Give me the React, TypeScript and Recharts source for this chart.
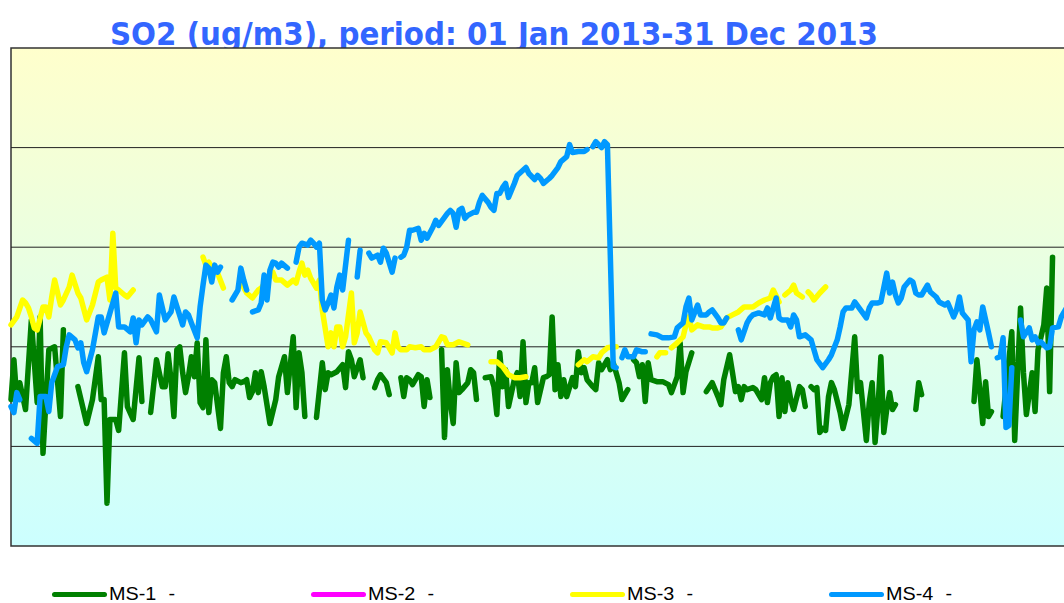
import React from "react";
import { LineChart, Line, XAxis, YAxis, ReferenceLine, ReferenceArea } from "recharts";

// [day of year, SO2 value]; null breaks the line (missing days)
type Pt = [number, number | null];

const seriesNames = ["MS-1 -", "MS-2 -", "MS-3 -", "MS-4 -"];
const seriesColors = ["#008000", "#ff00ff", "#ffff00", "#0099ff"];
const gridValues = [10, 20, 30, 40];
const dayDomain: [number, number] = [1, 365];
const valueDomain: [number, number] = [0, 50];

const ms1: Pt[] = [
  [1, 14.7], [2, 18.7], [3, 14.7], [4, 16.4], [6, 13.7], [8, 22.7], [10, 14.4], [11, 23.0], [12, 9.3], [14, 19.7],
  [16, 20.0], [18, 13.0], [19, 21.7], [20, null],
  [24, 16.0], [27, 12.3], [29, 14.7], [31, 19.0], [32, 14.7], [33, 14.7], [34, 4.3], [35, 12.7], [37, 12.7], [38, 11.6],
  [40, 19.4], [41, 14.0], [43, 12.7], [45, 18.9], [46, 14.5], [47, null],
  [49, 13.4], [51, 18.7], [53, 16.0], [54, 16.0], [55, 19.3], [56, 16.7], [57, 13.0], [58, 19.7], [59, 20.0], [60, 17.4],
  [61, 15.4], [62, 17.0], [63, 19.0], [64, 17.0], [65, 20.4], [66, 14.4], [67, 13.9], [68, 20.7], [69, 13.4], [70, 16.7],
  [71, 16.4], [73, 11.8], [74, 17.4], [75, 19.0], [76, 16.4], [77, 16.0], [78, 16.7], [80, 16.4], [81, 16.5], [82, 16.7],
  [83, 14.9], [84, 15.5], [85, 17.4], [86, 15.4], [87, 17.5], [88, 16.0], [90, 12.3], [92, 14.7], [93, 17.0], [95, 19.0],
  [96, 15.4], [98, 21.0], [99, 13.9], [100, 19.4], [101, 17.4], [102, 13.0], [104, null],
  [106, 12.9], [108, 18.4], [109, 15.7], [110, 17.4], [111, 17.2], [113, 17.5], [115, 18.2], [116, 15.9], [117, 19.5],
  [118, 18.7], [119, 17.0], [121, 18.7], [122, 16.9], [124, null],
  [126, 15.9], [127, 16.7], [128, 17.2], [130, 16.4], [131, 15.2], [133, null],
  [135, 16.9], [136, 15.0], [137, 16.9], [138, 16.7], [139, 16.2], [141, 17.2], [142, 17.0], [143, 14.0], [144, 16.7],
  [145, 14.9], [147, null],
  [149, 19.7], [150, 10.9], [151, 17.7], [152, 14.4], [153, 12.3], [154, 18.4], [155, 15.4], [156, 15.7], [158, 16.4],
  [159, 17.7], [160, 17.4], [161, 14.7], [162, null],
  [164, 16.9], [166, 17.0], [167, 16.0], [168, 13.2], [169, 19.4], [170, 16.0], [171, 17.7], [172, 14.0], [174, 16.7],
  [175, 17.4], [176, 15.0], [177, 20.5], [178, 14.4], [179, 16.4], [180, 16.4], [181, 17.9], [182, 14.4], [184, 16.9],
  [185, 17.0], [186, 17.2], [187, 23.0], [188, 15.7], [189, 18.2], [190, 15.0], [191, 16.7], [192, 15.0], [194, 16.9],
  [195, 16.0], [196, 19.5], [197, 17.4], [198, 17.9], [199, 16.7], [201, 16.0], [202, 15.7], [203, 18.4], [204, 17.7],
  [206, 18.7], [207, 17.7], [208, 18.4], [209, 17.4], [210, 16.4], [211, 14.7], [213, 15.7], [214, null],
  [215, 18.7], [216, 18.4], [217, 17.0], [218, 18.2], [219, 14.5], [220, 18.4], [221, 16.7], [223, 16.5], [225, 16.5],
  [227, 16.2], [228, 15.4], [230, 17.0], [231, 20.4], [232, 15.4], [233, 17.5], [235, 19.4], [237, null],
  [240, 15.5], [242, 16.4], [244, 15.0], [245, 14.2], [246, 16.7], [248, 19.2], [249, 17.4], [250, 15.5], [251, 16.0],
  [252, 14.7], [253, 16.0], [254, 15.7], [256, 15.9], [257, 15.7], [259, 14.7], [260, 16.9], [261, 14.4], [262, 16.4],
  [263, 17.0], [264, 17.2], [265, 13.0], [266, 16.9], [267, 13.5], [268, 16.4], [269, 14.7], [270, 13.7], [272, 16.0],
  [273, 15.7], [274, 14.0], [275, null],
  [276, 16.0], [277, 15.7], [278, 15.9], [279, 11.4], [280, 11.8], [281, 11.6], [282, 15.0], [283, 16.4], [284, 15.7],
  [286, 13.4], [287, 11.8], [289, 14.2], [291, 21.0], [292, 15.5], [293, 16.4], [295, 10.6], [296, 14.4], [297, 16.4],
  [298, 10.4], [299, 14.0], [300, 19.0], [301, 11.4], [302, 13.7], [303, 15.4], [304, 13.7], [305, 14.2], [307, null],
  [312, 13.7], [313, 16.4], [314, 15.2], [315, null],
  [332, 14.5], [333, 18.7], [334, 15.7], [335, 12.3], [336, 16.5], [337, 13.0], [338, 13.5], [340, null],
  [342, 13.0], [345, 21.5], [346, 10.6], [347, 17.4], [348, 23.9], [349, 17.4], [350, 13.2], [352, 17.4], [353, 13.5],
  [354, 19.7], [356, 22.2], [357, 25.9], [358, 15.5], [359, 29.0],
];

// no data for MS-2 in this period
const ms2: Pt[] = [];

const ms3: Pt[] = [
  [1, 22.2], [3, 23.0], [5, 24.7], [6, 24.4], [7, 23.9], [8, 23.0], [9, 21.9], [10, 21.7], [12, 24.0], [13, 24.0],
  [14, 23.0], [15, 25.0], [16, 26.7], [18, 24.2], [19, 24.7], [21, 26.0], [22, 27.2], [24, 25.4], [25, 24.9], [27, 22.7],
  [29, 24.2], [31, 26.5], [32, 26.7], [34, 27.0], [35, 24.7], [36, 31.4], [37, 25.9], [38, 25.7], [40, 25.2], [41, 25.0],
  [43, 25.7], [45, null],
  [67, 29.0], [68, 28.2], [69, 28.5], [70, 27.9], [72, 27.4], [74, 25.9], [76, null],
  [80, 26.5], [82, 25.4], [84, 24.9], [86, 25.7], [87, 25.9], [91, 27.5], [92, 26.7], [94, 26.7], [96, 26.2], [98, 26.7],
  [99, 26.4], [100, 27.5], [101, 28.4], [102, 27.2], [103, 27.7], [104, 26.9], [106, 25.9], [107, 26.7], [108, 23.7],
  [110, 20.0], [111, 21.4], [112, 20.0], [113, 22.0], [114, 22.0], [115, 20.0], [116, 21.0], [118, 25.4], [119, 20.4],
  [120, 21.4], [121, 23.5], [123, 21.4], [124, 21.0], [126, 19.7], [127, 19.4], [128, 20.5], [130, 20.4], [132, 19.4],
  [133, 21.4], [134, 20.0], [135, 19.7], [137, 19.7], [138, 20.0], [140, 19.9], [142, 20.0], [143, 19.7], [145, 19.7],
  [147, 20.0], [149, 21.0], [150, 20.9], [151, 20.2], [153, 20.2], [155, 20.5], [156, 20.4], [158, 20.2], [160, null],
  [166, 18.5], [168, 18.5], [170, 18.0], [172, 17.2], [174, 16.9], [176, 16.9], [178, 17.0], [180, null],
  [196, 18.2], [198, 18.7], [199, 18.5], [201, 19.0], [203, 18.9], [204, 19.4], [206, 19.9], [208, 20.0], [209, 20.0],
  [211, null],
  [223, 19.0], [224, 19.4], [226, 19.4], [227, null],
  [228, 19.9], [230, 20.4], [232, 21.0], [233, 22.2], [234, 23.0], [235, 21.7], [237, 22.2], [239, 22.0], [241, 22.0],
  [242, 21.9], [244, 21.9], [245, 22.0], [247, 22.9], [249, 23.2], [251, 23.5], [253, 24.0], [254, 24.0], [256, 24.0],
  [258, 24.4], [260, 24.7], [262, 24.9], [263, 25.7], [265, 24.5], [266, null],
  [267, 25.2], [269, 25.7], [270, 26.2], [271, 25.4], [273, 25.0], [274, null],
  [275, 25.5], [276, 25.2], [277, 24.7], [279, 25.4], [281, 26.0],
];

const ms4: Pt[] = [
  [1, 14.0], [2, 13.4], [3, 15.4], [4, 14.7], [6, null],
  [8, 10.8], [10, 10.3], [11, 15.0], [13, 15.0], [14, 13.5], [15, 16.4], [17, 18.0], [19, 18.2], [20, 20.0], [21, 21.2],
  [23, 20.7], [24, 19.9], [25, 20.4], [26, 18.4], [27, 17.5], [29, 19.7], [31, 23.0], [32, 23.0], [33, 21.4], [34, 22.4],
  [37, 25.4], [38, 22.0], [40, 22.0], [42, 21.5], [43, 22.9], [44, 20.4], [45, 22.7], [46, 22.2], [48, 23.0], [49, 22.7],
  [51, 21.5], [52, 25.2], [54, 22.7], [56, 23.5], [57, 25.0], [60, 22.2], [61, 23.5], [62, 23.2], [63, 22.4], [65, 20.9],
  [66, 24.0], [67, 26.2], [68, 28.2], [69, 27.9], [70, 26.5], [71, 28.2], [72, 27.5], [73, 28.0], [75, null],
  [77, 24.7], [79, 25.7], [80, 27.9], [81, 26.7], [82, 25.7], [83, null],
  [84, 23.5], [86, 23.7], [87, 24.4], [88, 27.2], [89, 24.7], [90, 27.7], [91, 28.5], [92, 28.4], [93, 28.0], [94, 28.4],
  [96, 27.9], [97, null],
  [99, 28.5], [100, 30.0], [101, 30.4], [103, 30.2], [104, 30.7], [105, 30.4], [106, 30.0], [107, 30.4], [108, 24.7],
  [109, 23.7], [110, 24.4], [111, 25.2], [112, 23.9], [113, 26.0], [114, 27.2], [115, 25.7], [117, 30.7], [118, null],
  [120, 27.0], [121, 29.7], [122, null],
  [124, 29.4], [125, 28.9], [127, 29.2], [128, 28.5], [129, 29.9], [130, 29.4], [132, 27.5], [133, 28.9], [134, null],
  [135, 29.0], [136, 29.2], [137, 30.0], [138, 31.7], [139, 31.7], [141, 31.9], [142, 30.7], [143, 31.4], [144, 30.9],
  [146, 32.0], [147, 32.7], [148, 32.2], [150, 33.0], [151, 33.4], [152, 33.7], [153, 33.4], [154, 32.0], [155, 33.7],
  [156, 33.9], [157, 32.9], [158, 33.2], [160, 33.5], [161, 33.5], [162, 34.5], [163, 35.2], [165, 34.5], [166, 34.0],
  [167, 33.7], [168, 35.4], [169, 35.4], [170, 36.0], [171, 36.4], [172, 35.0], [174, 36.4], [175, 37.2], [178, 38.0],
  [179, 37.4], [181, 36.8], [182, 37.2], [183, 36.9], [184, 36.4], [186, 36.9], [187, 37.2], [189, 38.0], [190, 38.6],
  [192, 39.1], [193, 40.3], [194, 39.5], [196, 39.6], [198, 39.6], [199, 39.8], [200, null],
  [201, 40.1], [202, 40.6], [204, 40.0], [205, 40.6], [206, 40.3], [208, 18.0], [209, 17.9], [210, null],
  [211, 18.9], [212, 19.7], [213, 19.0], [215, 19.0], [216, 19.7], [218, 19.5], [219, 19.5], [220, null],
  [221, 21.3], [223, 21.2], [225, 20.9], [227, 20.9], [229, 21.0], [230, 21.9], [232, 22.4], [233, 24.0], [234, 24.9],
  [235, 22.7], [237, 24.2], [238, 23.2], [240, 23.2], [241, 23.5], [242, 23.7], [244, 22.9], [245, 22.4], [246, 22.4],
  [247, 22.9], [249, null],
  [251, 21.7], [252, 20.7], [254, 22.4], [255, 22.9], [256, 23.2], [258, 23.4], [260, 23.2], [261, 23.9], [262, 22.9],
  [264, 24.9], [265, 22.9], [266, 22.7], [268, 22.7], [269, 22.0], [270, 23.2], [271, 22.7], [272, 21.0], [274, 21.2],
  [276, 20.7], [277, 19.7], [278, 18.7], [280, 17.9], [282, 18.7], [283, 19.2], [285, 20.7], [286, 22.0], [287, 23.5],
  [288, 23.9], [290, 23.9], [291, 24.5], [293, 23.7], [295, 22.9], [296, 23.9], [297, 24.4], [299, 24.4], [300, 24.5],
  [302, 27.4], [303, 25.4], [304, 26.5], [305, 25.2], [306, 24.4], [307, 24.9], [308, 26.0], [310, 26.7], [311, 26.5],
  [312, 25.4], [313, 25.2], [314, 25.2], [316, 26.2], [317, 25.5], [319, 25.0], [320, 24.5], [322, 24.2], [323, 24.4],
  [325, 23.0], [326, 23.7], [327, 25.0], [328, 23.4], [330, 22.7], [331, 18.5], [332, 21.7], [333, 22.5], [334, 21.7],
  [335, 24.0], [337, 21.4], [338, 20.0], [339, null],
  [340, 18.9], [341, 19.0], [342, 20.9], [343, 11.9], [344, 12.1], [345, 17.9], [346, null],
  [348, 22.7], [349, 21.0], [351, 21.9], [352, 20.7], [353, 21.0], [354, 20.4], [355, 20.5], [357, 19.9], [358, 20.0],
  [359, 21.9], [361, 22.0], [362, 23.0], [364, 24.0],
];

const toRows = (pts: Pt[]) => pts.map(([day, v]) => ({ day, v }));

export default function App() {
  const series = [ms1, ms2, ms3, ms4];

  return (
    <div
      style={{
        position: "absolute",
        left: 0,
        top: 0,
        width: 1064,
        height: 603,
        overflow: "hidden",
        background: "#fff",
      }}
    >
      {/* gradient for the plot background, referenced by id from the chart */}
      <svg width={0} height={0} style={{ position: "absolute" }}>
        <defs>
          <linearGradient id="plotBg" x1="0" y1="0" x2="0" y2="1">
            <stop offset="0%" stopColor="#ffffcc" />
            <stop offset="100%" stopColor="#ccffff" />
          </linearGradient>
        </defs>
      </svg>

      <svg width={1064} height={60} style={{ position: "absolute", left: 0, top: 0 }}>
        <text
          x={110}
          y={44.5}
          textLength={768}
          lengthAdjust="spacingAndGlyphs"
          fontFamily="'DejaVu Sans', Verdana, sans-serif"
          fontWeight="bold"
          fontSize={32}
          fill="#3366ff"
        >
          SO2 (ug/m3), period: 01 Jan 2013-31 Dec 2013
        </text>
      </svg>

      <div style={{ position: "absolute", left: 0, top: 0 }}>
        <LineChart width={1080} height={603} margin={{ top: 48, right: 10, bottom: 57, left: 11 }}>
          <XAxis type="number" dataKey="day" domain={dayDomain} hide />
          <YAxis type="number" domain={valueDomain} hide />
          <ReferenceArea
            x1={dayDomain[0]}
            x2={dayDomain[1]}
            y1={valueDomain[0]}
            y2={valueDomain[1]}
            fill="url(#plotBg)"
            fillOpacity={1}
            stroke="#333"
            strokeWidth={1.5}
          />
          {gridValues.map((g) => (
            <ReferenceLine key={g} y={g} stroke="#222" strokeWidth={1} />
          ))}
          {series.map((pts, i) => (
            <Line
              key={seriesNames[i]}
              data={toRows(pts)}
              dataKey="v"
              name={seriesNames[i]}
              type="linear"
              stroke={seriesColors[i]}
              strokeWidth={5.5}
              strokeLinejoin="round"
              strokeLinecap="round"
              dot={false}
              activeDot={false}
              connectNulls={false}
              isAnimationActive={false}
            />
          ))}
        </LineChart>
      </div>

      {/* legend row */}
      {seriesNames.map((name, i) => (
        <div
          key={name}
          style={{
            position: "absolute",
            left: 52 + i * 259,
            top: 584,
            height: 20,
            display: "flex",
            alignItems: "center",
          }}
        >
          <span
            style={{
              display: "inline-block",
              width: 55,
              height: 5,
              borderRadius: 3,
              background: seriesColors[i],
            }}
          />
          <span
            style={{
              display: "inline-block",
              marginLeft: 2,
              fontFamily: "'Liberation Sans', Arial, sans-serif",
              fontSize: 18,
              wordSpacing: 6,
              color: "#000",
              transform: "scaleX(1.1)",
              transformOrigin: "left center",
              whiteSpace: "nowrap",
            }}
          >
            {name}
          </span>
        </div>
      ))}
    </div>
  );
}
